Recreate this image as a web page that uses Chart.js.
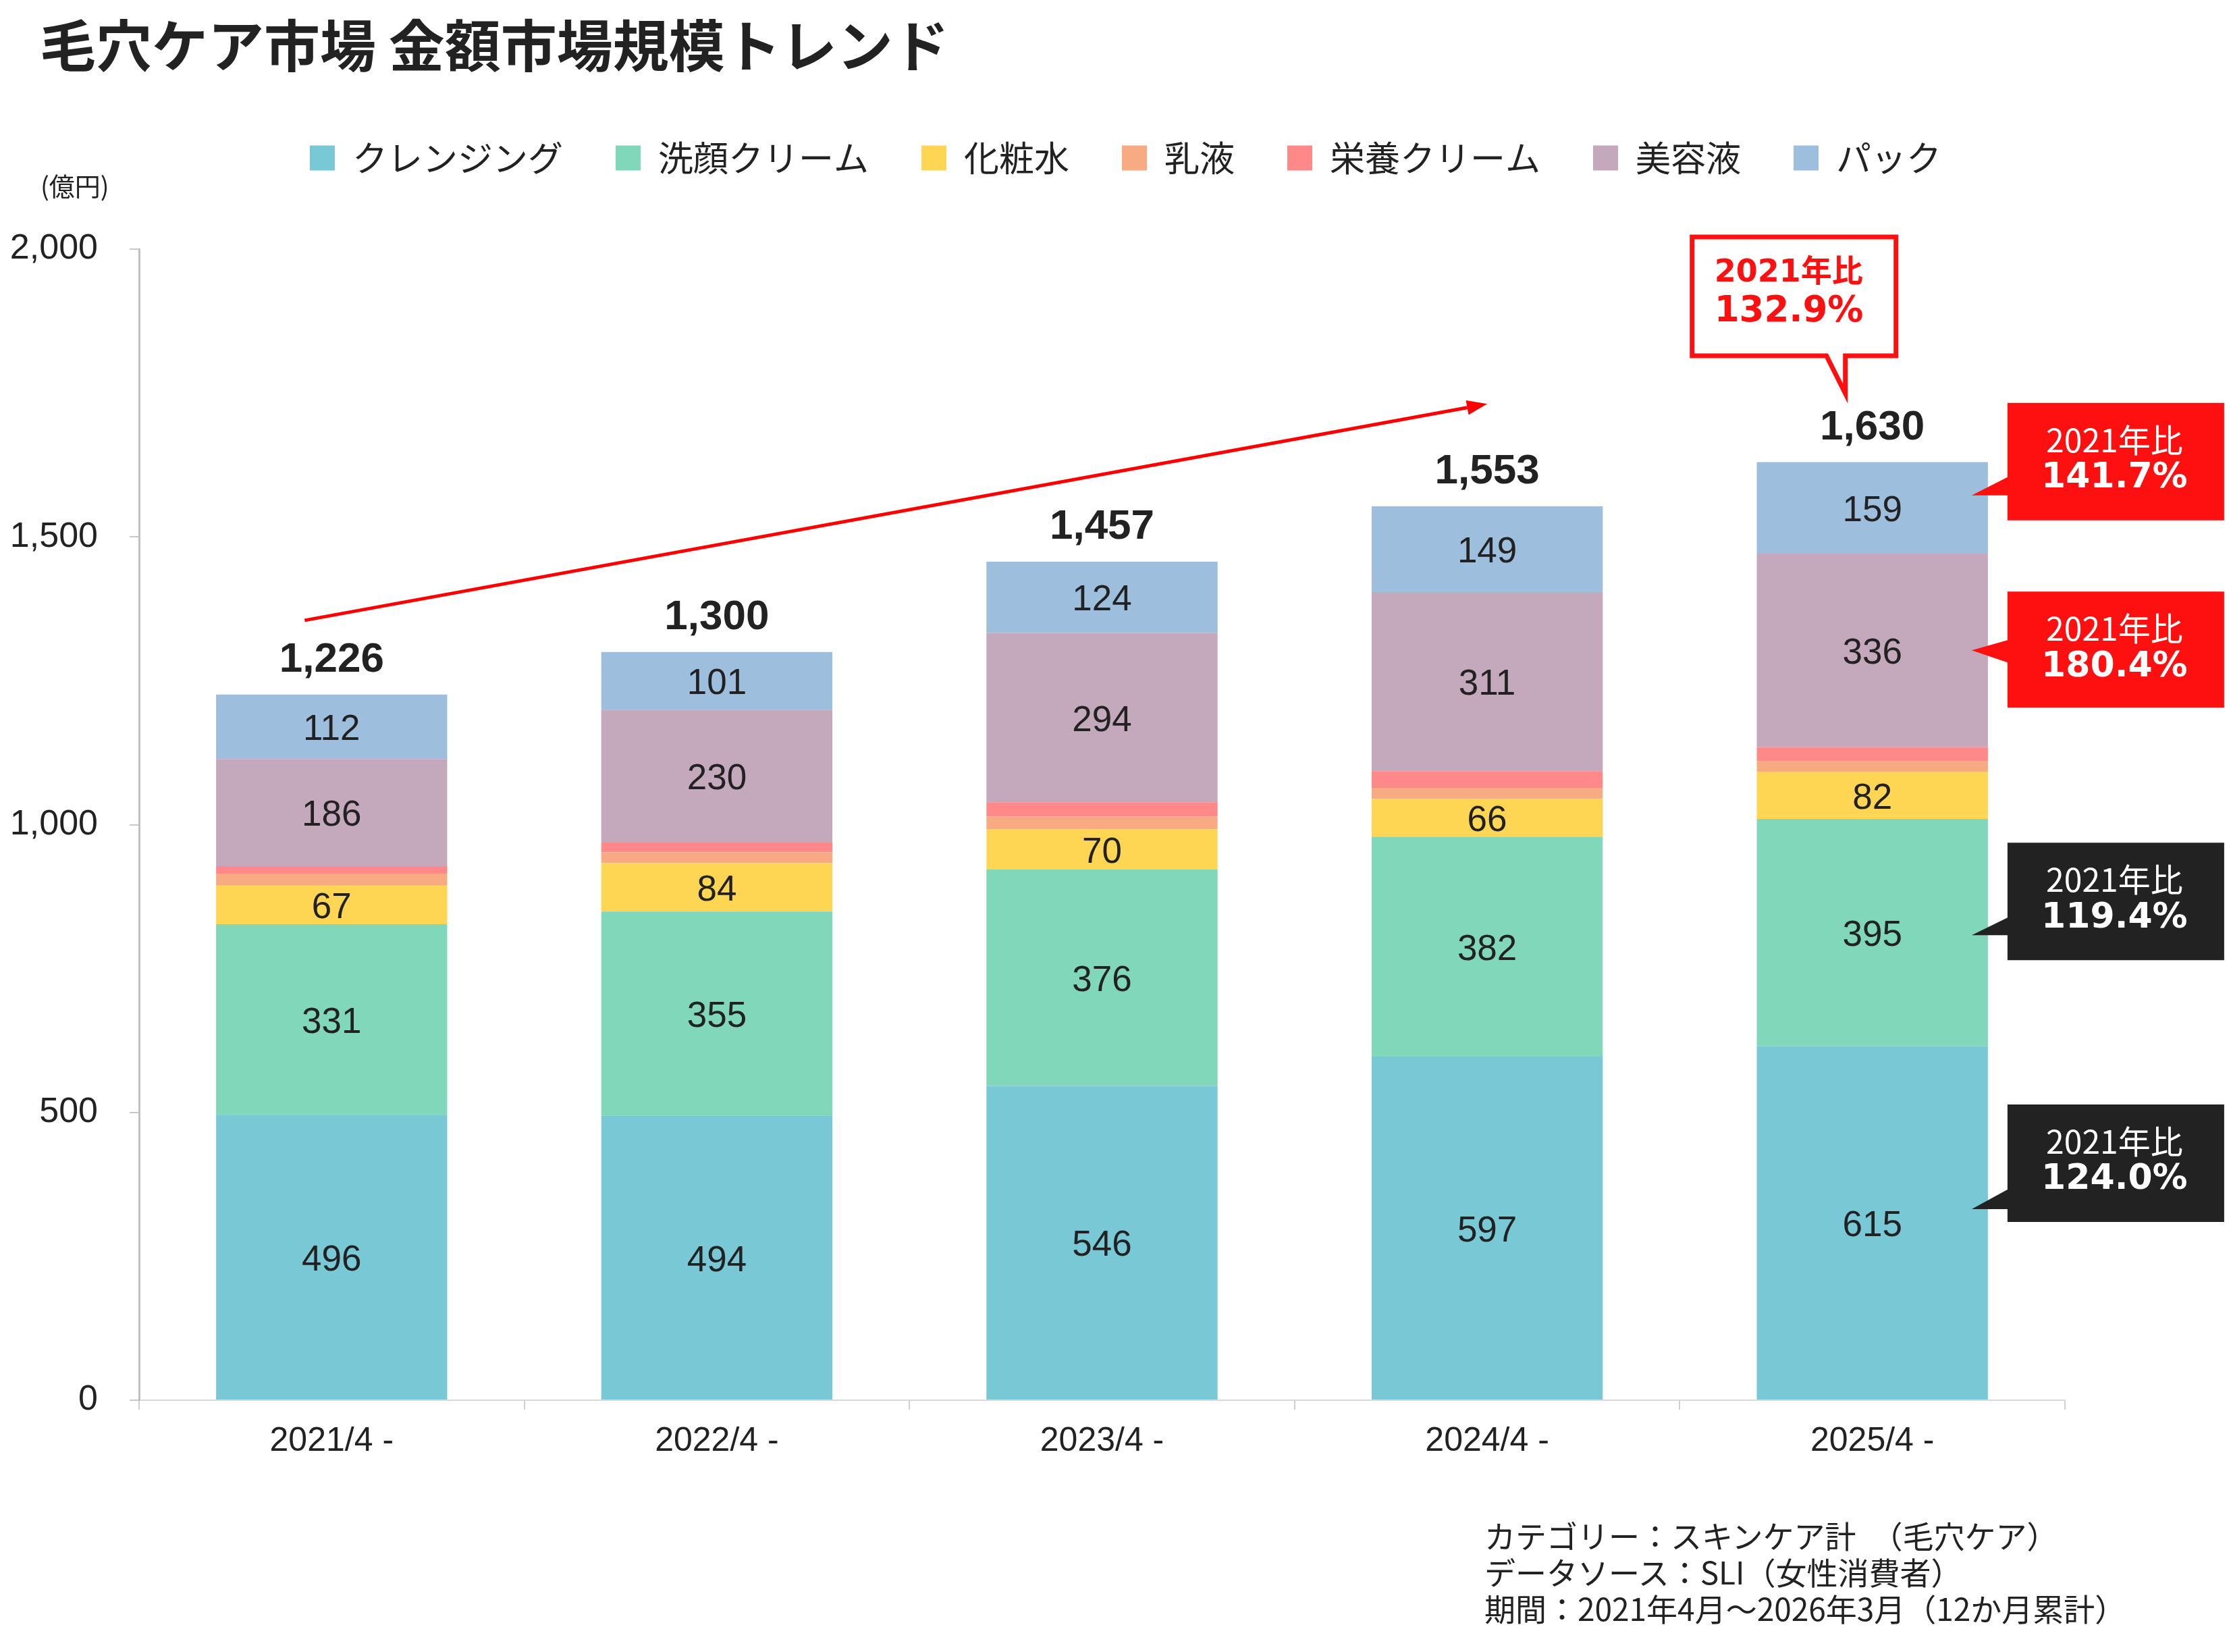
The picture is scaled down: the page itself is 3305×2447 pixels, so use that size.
<!DOCTYPE html>
<html lang="ja">
<head>
<meta charset="utf-8">
<title>毛穴ケア市場 金額市場規模トレンド</title>
<script src="https://cdn.jsdelivr.net/npm/chart.js@4.4.1/dist/chart.umd.min.js"></script>
<style>
  html, body { margin: 0; padding: 0; background: #fff; }
  body { width: 3305px; height: 2447px; position: relative; overflow: hidden; color: #222;
         font-family: "Noto Sans CJK JP", sans-serif; }
  #chart { position: absolute; left: 0; top: 0; }
  #title { position: absolute; left: 59px; top: 14px; font-size: 83px; line-height: 98px; font-weight: 700; white-space: nowrap; }
  #unit { position: absolute; left: 60px; top: 251px; font-size: 38px; line-height: 46px; white-space: nowrap; }
  #note { position: absolute; left: 2199px; top: 2246px; font-size: 46px; line-height: 54px; white-space: nowrap; }
</style>
</head>
<body>
<canvas id="chart" width="3305" height="2447"></canvas>
<div id="title">毛穴ケア市場 金額市場規模トレンド</div>
<div id="unit">(億円)</div>
<div id="note">カテゴリー：スキンケア計　（毛穴ケア）<br>データソース：SLI（女性消費者）<br>期間：2021年4月～2026年3月（12か月累計）</div>
<script>
// データ
const categories = ['2021/4 -', '2022/4 -', '2023/4 -', '2024/4 -', '2025/4 -'];
const cleansing = [496, 494, 546, 597, 615];
const faceWash = [331, 355, 376, 382, 395];
const lotion = [67, 84, 70, 66, 82];
const milk = [21, 19, 22, 19, 18];
const nutrition = [13, 17, 25, 29, 25];
const serum = [186, 230, 294, 311, 336];
const pack = [112, 101, 124, 149, 159];
const yTicks = [0, 500, 1000, 1500, 2000];

const seriesNames = ['クレンジング', '洗顔クリーム', '化粧水', '乳液', '栄養クリーム', '美容液', 'パック'];
const seriesValues = [cleansing, faceWash, lotion, milk, nutrition, serum, pack];
const seriesColors = ['#78C8D6', '#80D7BA', '#FED654', '#F8AA82', '#FF8888', '#C4A8BC', '#9DBEDC'];
const labelledSeries = [true, true, true, false, false, true, true];

// 2021年比 の吹き出し
const totalRatio = '132.9%';
const sideRatios = ['141.7%', '180.4%', '119.4%', '124.0%'];
const sideRatioAnchors = [1572, 1303, 808, 332];   // 吹き出しの先端が指す値
const totalRatioAnchor = 1749;
// トレンド矢印 (カテゴリ位置, 値)
const arrowFrom = [-0.07, 1355];
const arrowTo = [3.0, 1731];

const baseFont = "'Liberation Sans', Arial, 'Noto Sans CJK JP', sans-serif";
Chart.defaults.font.family = baseFont;
Chart.defaults.color = '#222';

const datasets = seriesNames.map((name, i) => ({
    label: name,
    data: seriesValues[i],
    backgroundColor: seriesColors[i],
    borderWidth: 0,
    barPercentage: 0.6,
    categoryPercentage: 1.0,
    showValue: labelledSeries[i]
}));

// 凡例とグラフの間隔、凡例の位置調整
const legendGap = {
    id: 'legendGap',
    beforeInit(chart) {
        const legend = chart.legend;
        if (!legend) return;
        const fit = legend.fit;
        legend.fit = function () { fit.call(this); this.height += 99; };
    },
    afterLayout(chart) {
        chart.legend.left += 133;
        chart.legend.right += 133;
    }
};

// 値ラベル、合計、矢印、吹き出し
const overlay = {
    id: 'overlay',
    afterDraw(chart) {
        const { ctx, scales: { x, y } } = chart;
        ctx.save();

        // 各セグメントの値
        ctx.textAlign = 'center';
        ctx.textBaseline = 'middle';
        ctx.fillStyle = '#222';
        ctx.font = "53px " + baseFont;
        chart.data.datasets.forEach((ds, di) => {
            if (!ds.showValue) return;
            chart.getDatasetMeta(di).data.forEach((bar, i) => {
                ctx.fillText(String(ds.data[i]), bar.x, (bar.y + bar.base) / 2 + 5);
            });
        });

        // 合計
        ctx.font = "bold 62px " + baseFont;
        categories.forEach((c, i) => {
            const total = seriesValues.reduce((s, arr) => s + arr[i], 0);
            ctx.fillText(total.toLocaleString('en-US'), x.getPixelForValue(i), y.getPixelForValue(total) - 51);
        });

        // トレンド矢印
        const x1 = x.getPixelForValue(arrowFrom[0]), y1 = y.getPixelForValue(arrowFrom[1]);
        const x2 = x.getPixelForValue(arrowTo[0]), y2 = y.getPixelForValue(arrowTo[1]);
        const ang = Math.atan2(y2 - y1, x2 - x1);
        const headLen = 30, headHalf = 11;
        ctx.strokeStyle = '#FF0000';
        ctx.fillStyle = '#FF0000';
        ctx.lineWidth = 5;
        ctx.beginPath();
        ctx.moveTo(x1, y1);
        ctx.lineTo(x2 - headLen * Math.cos(ang), y2 - headLen * Math.sin(ang));
        ctx.stroke();
        ctx.beginPath();
        ctx.moveTo(x2, y2);
        ctx.lineTo(x2 - headLen * Math.cos(ang) + headHalf * Math.sin(ang), y2 - headLen * Math.sin(ang) - headHalf * Math.cos(ang));
        ctx.lineTo(x2 - headLen * Math.cos(ang) - headHalf * Math.sin(ang), y2 - headLen * Math.sin(ang) + headHalf * Math.cos(ang));
        ctx.closePath();
        ctx.fill();

        const lastMeta = chart.getDatasetMeta(chart.data.datasets.length - 1);
        const lastBar = lastMeta.data[categories.length - 1];

        // 合計の吹き出し (赤枠)
        const tx = lastBar.x - 40, ty = y.getPixelForValue(totalRatioAnchor);
        const bl = tx - 227, br = tx + 75, bt = ty - 232, bb = ty - 56;
        ctx.beginPath();
        ctx.moveTo(bl, bt);
        ctx.lineTo(br, bt);
        ctx.lineTo(br, bb);
        ctx.lineTo(tx, bb);
        ctx.lineTo(tx, ty);
        ctx.lineTo(tx - 28, bb);
        ctx.lineTo(bl, bb);
        ctx.closePath();
        ctx.fillStyle = '#fff';
        ctx.fill();
        ctx.strokeStyle = '#FF1010';
        ctx.lineWidth = 7;
        ctx.lineJoin = 'miter';
        ctx.stroke();
        ctx.fillStyle = '#FF1010';
        ctx.textAlign = 'left';
        ctx.font = "bold 46px 'DejaVu Sans', 'Noto Sans CJK JP', sans-serif";
        ctx.fillText('2021年比', bl + 33, bt + 54);
        ctx.font = "bold 53px 'DejaVu Sans', 'Noto Sans CJK JP', sans-serif";
        ctx.fillText(totalRatio, bl + 33, bt + 111);

        // 右側の吹き出し
        const boxes = [
            { color: '#FF1010', top: -137, bottom: 37, up: 27, down: 0 },
            { color: '#FF1010', top: -87, bottom: 85, up: 15, down: 18 },
            { color: '#222222', top: -137, bottom: 37, up: 26, down: 0 },
            { color: '#222222', top: -155, bottom: 19, up: 29, down: 0 }
        ];
        const tipX = lastBar.x + lastBar.width / 2 - 24;
        const left = tipX + 53, width = 321;
        sideRatios.forEach((txt, i) => {
            const b = boxes[i];
            const tipY = y.getPixelForValue(sideRatioAnchors[i]);
            const top = tipY + b.top, bottom = tipY + b.bottom;
            ctx.fillStyle = b.color;
            ctx.beginPath();
            ctx.moveTo(left, top);
            ctx.lineTo(left + width, top);
            ctx.lineTo(left + width, bottom);
            ctx.lineTo(left, bottom);
            ctx.lineTo(left, tipY + b.down);
            ctx.lineTo(tipX, tipY);
            ctx.lineTo(left, tipY - b.up);
            ctx.closePath();
            ctx.fill();
            ctx.fillStyle = '#fff';
            ctx.textAlign = 'center';
            ctx.font = "48px 'Noto Sans CJK JP', sans-serif";
            ctx.fillText('2021年比', left + width / 2 - 2, top + 55);
            ctx.font = "bold 52px 'DejaVu Sans', sans-serif";
            ctx.fillText(txt, left + width / 2 - 2, top + 112);
        });

        ctx.restore();
    }
};

new Chart(document.getElementById('chart'), {
    type: 'bar',
    data: { labels: categories, datasets: datasets },
    plugins: [legendGap, overlay],
    options: {
        responsive: false,
        animation: false,
        layout: { padding: { top: 130, left: 10, right: 246, bottom: 263 } },
        plugins: {
            title: { display: false },
            tooltip: { enabled: false },
            legend: {
                position: 'top',
                labels: {
                    boxWidth: 37,
                    boxHeight: 37,
                    padding: 78,
                    color: '#222',
                    font: { size: 52, family: "'Noto Sans CJK JP', sans-serif" }
                }
            }
        },
        scales: {
            x: {
                stacked: true,
                afterFit: s => { s.height = 110; },
                grid: { drawOnChartArea: false, tickLength: 14, color: '#d0d0d0', lineWidth: 2 },
                border: { color: '#d9d9d9', width: 2 },
                ticks: { padding: 17, color: '#222', font: { size: 50 } }
            },
            y: {
                stacked: true,
                min: yTicks[0],
                max: yTicks[yTicks.length - 1],
                afterFit: s => { s.width = 196; },
                afterBuildTicks: s => { s.ticks = yTicks.map(v => ({ value: v })); },
                grid: { drawOnChartArea: false, tickLength: 14, color: '#c8c8c8', lineWidth: 2 },
                border: { color: '#c0c0c0', width: 3 },
                ticks: { padding: 47, color: '#222', font: { size: 52 }, callback: v => v.toLocaleString('en-US') }
            }
        }
    }
});
</script>
</body>
</html>
